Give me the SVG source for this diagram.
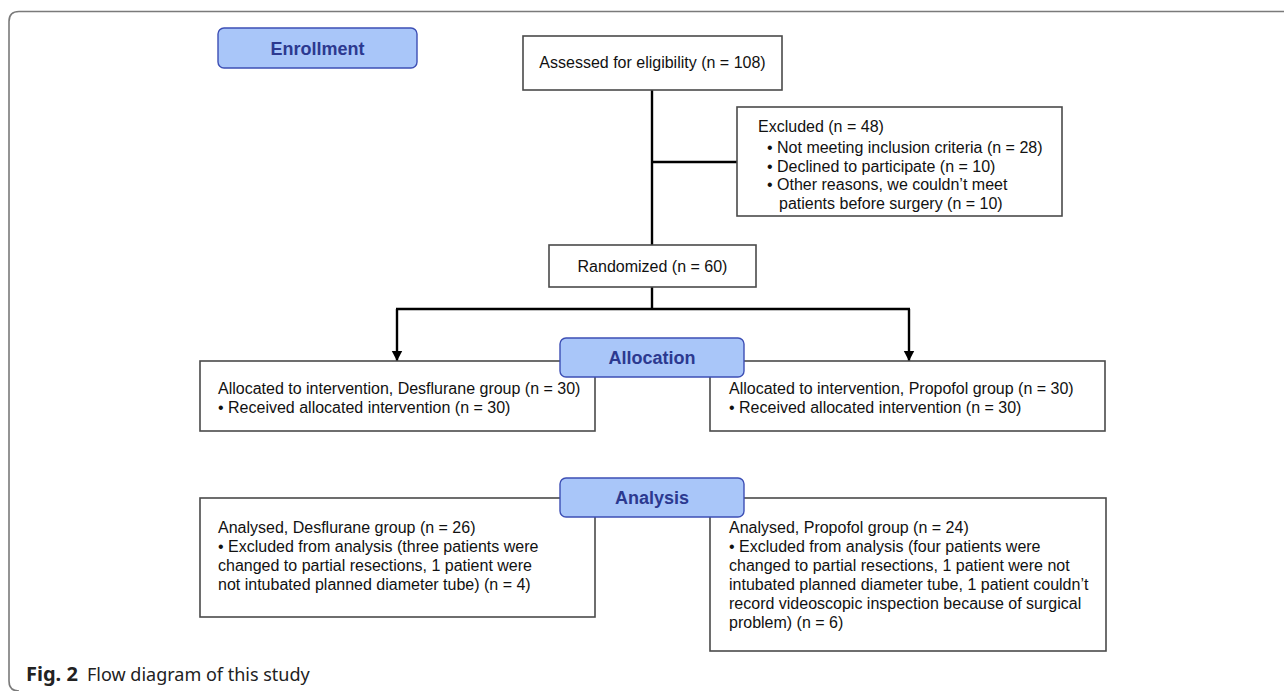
<svg xmlns="http://www.w3.org/2000/svg" width="1284" height="691" viewBox="0 0 1284 691">
  <style>
    .box { fill: #ffffff; stroke: #4a4a4a; stroke-width: 1.6; }
    .stage { fill: #a9c6f9; stroke: #3d4fb5; stroke-width: 1.4; }
    .stage-t { font-family: "Liberation Sans", Arial, sans-serif; font-size: 18px; font-weight: bold; fill: #2c3990; text-anchor: middle; }
    .t { font-family: "Liberation Sans", Arial, sans-serif; font-size: 16px; fill: #111111; }
    .c { text-anchor: middle; }
    .conn { fill: none; stroke: #000000; stroke-width: 2.4; }
    .frame { fill: none; stroke: #7a7a7a; stroke-width: 1.6; }
    .cap { font-family: "Noto Sans", "Open Sans", sans-serif; font-size: 18px; fill: #222222; }
  </style>
  <defs>
    <marker id="arrow" markerUnits="userSpaceOnUse" markerWidth="12" markerHeight="12" viewBox="0 0 12 12" refX="10" refY="6" orient="auto">
      <path d="M0,0.8 L10,6 L0,11.2 Z" fill="#000000"/>
    </marker>
  </defs>

  <rect width="1284" height="691" fill="#ffffff"/>
  <path class="frame" d="M1284 11.5 H19 Q9 11.5 9 21.5 V681 Q9 691 19 691"/>

  <g id="connectors">
    <line class="conn" x1="652" y1="90" x2="652" y2="245"/>
    <line class="conn" x1="652" y1="162" x2="737" y2="162"/>
    <line class="conn" x1="652" y1="287" x2="652" y2="309"/>
    <line class="conn" x1="396" y1="309" x2="910" y2="309"/>
    <line class="conn" x1="397" y1="309" x2="397" y2="361" marker-end="url(#arrow)"/>
    <line class="conn" x1="909" y1="309" x2="909" y2="361" marker-end="url(#arrow)"/>
  </g>

  <g id="enrollment">
    <rect class="stage" x="218" y="28" width="199" height="40" rx="6"/>
    <text class="stage-t" x="317.5" y="54.5">Enrollment</text>
  </g>

  <g id="assessed">
    <rect class="box" x="523" y="36" width="259" height="54"/>
    <text class="t c" x="652.5" y="68">Assessed for eligibility (n = 108)</text>
  </g>

  <g id="excluded">
    <rect class="box" x="737" y="107" width="325" height="109"/>
    <text class="t" x="758" y="132">Excluded (n = 48)</text>
    <text class="t" x="767" y="153">• Not meeting inclusion criteria (n = 28)</text>
    <text class="t" x="767" y="171.5">• Declined to participate (n = 10)</text>
    <text class="t" x="767" y="190">• Other reasons, we couldn’t meet</text>
    <text class="t" x="779" y="208.5">patients before surgery (n = 10)</text>
  </g>

  <g id="randomized">
    <rect class="box" x="549" y="245" width="207" height="42"/>
    <text class="t c" x="652.5" y="272">Randomized (n = 60)</text>
  </g>

  <g id="alloc-desflurane">
    <rect class="box" x="200" y="361" width="395" height="70"/>
    <text class="t" x="218" y="394">Allocated to intervention, Desflurane group (n = 30)</text>
    <text class="t" x="218" y="413">• Received allocated intervention (n = 30)</text>
  </g>

  <g id="alloc-propofol">
    <rect class="box" x="710" y="361" width="395" height="70"/>
    <text class="t" x="729" y="394">Allocated to intervention, Propofol group (n = 30)</text>
    <text class="t" x="729" y="413">• Received allocated intervention (n = 30)</text>
  </g>

  <g id="allocation">
    <rect class="stage" x="560" y="338" width="184" height="39" rx="6"/>
    <text class="stage-t" x="652" y="364">Allocation</text>
  </g>

  <g id="analysed-desflurane">
    <rect class="box" x="200" y="498" width="395" height="119"/>
    <text class="t" x="218" y="533">Analysed, Desflurane group (n = 26)</text>
    <text class="t" x="218" y="552">• Excluded from analysis (three patients were</text>
    <text class="t" x="218" y="571">changed to partial resections, 1 patient were</text>
    <text class="t" x="218" y="590">not intubated planned diameter tube) (n = 4)</text>
  </g>

  <g id="analysed-propofol">
    <rect class="box" x="710" y="498" width="396" height="153"/>
    <text class="t" x="729" y="533">Analysed, Propofol group (n = 24)</text>
    <text class="t" x="729" y="552">• Excluded from analysis (four patients were</text>
    <text class="t" x="729" y="571">changed to partial resections, 1 patient were not</text>
    <text class="t" x="729" y="590">intubated planned diameter tube, 1 patient couldn’t</text>
    <text class="t" x="729" y="609">record videoscopic inspection because of surgical</text>
    <text class="t" x="729" y="628">problem) (n = 6)</text>
  </g>

  <g id="analysis">
    <rect class="stage" x="560" y="478" width="184" height="39" rx="6"/>
    <text class="stage-t" x="652" y="504">Analysis</text>
  </g>

  <g id="caption">
    <text class="cap" x="26" y="681"><tspan font-weight="bold" font-size="20">Fig. 2</tspan><tspan x="87">Flow diagram of this study</tspan></text>
  </g>
</svg>
